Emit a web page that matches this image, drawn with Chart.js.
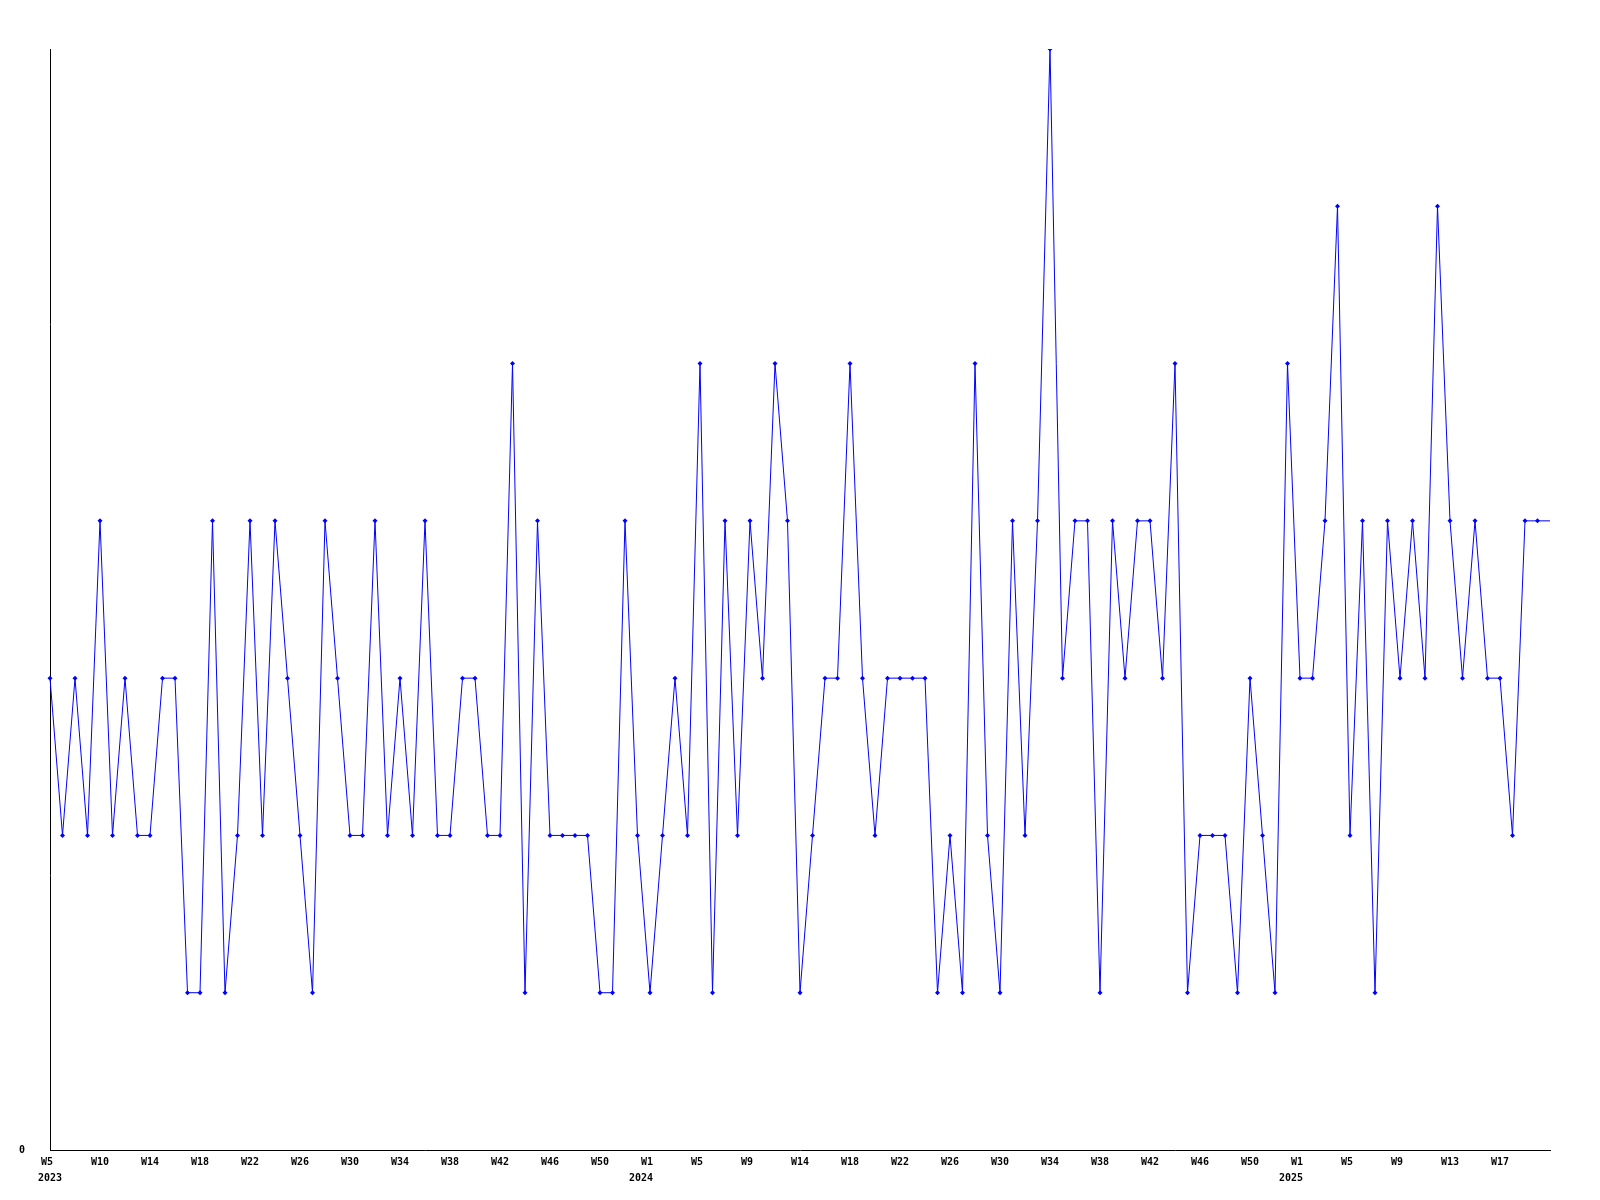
<!DOCTYPE html>
<html>
<head>
<meta charset="utf-8">
<title>Weekly count</title>
<script src="https://cdn.jsdelivr.net/npm/chart.js@4.4.1/dist/chart.umd.min.js"></script>
<style>
    html, body { margin: 0; padding: 0; background: #ffffff; }
    canvas { display: block; }
</style>
</head>
<body>
<canvas id="weekChart" width="1600" height="1200"></canvas>
<script>
// === DATA: one value per week, 2023 W5 .. 2025 ===
const weeklyValues = [
    3, 2, 3, 2, 4, 2, 3, 2, 2, 3, 3, 1, 1, 4, 1, 2, 4, 2, 4, 3,
    2, 1, 4, 3, 2, 2, 4, 2, 3, 2, 4, 2, 2, 3, 3, 2, 2, 5, 1, 4,
    2, 2, 2, 2, 1, 1, 4, 2, 1, 2, 3, 2, 5, 1, 4, 2, 4, 3, 5, 4,
    1, 2, 3, 3, 5, 3, 2, 3, 3, 3, 3, 1, 2, 1, 5, 2, 1, 4, 2, 4,
    7, 3, 4, 4, 1, 4, 3, 4, 4, 3, 5, 1, 2, 2, 2, 1, 3, 2, 1, 5,
    3, 3, 4, 6, 2, 4, 1, 4, 3, 4, 3, 6, 4, 3, 4, 3, 3, 2, 4, 4,
    4
];

// labels shown every 4th week
const weekTickLabels = [
    "W5", "W10", "W14", "W18", "W22", "W26", "W30", "W34", "W38", "W42",
    "W46", "W50", "W1", "W5", "W9", "W14", "W18", "W22", "W26", "W30",
    "W34", "W38", "W42", "W46", "W50", "W1", "W5", "W9", "W13", "W17"
];
const tickStep = 4;

// year under the first week of each year
const yearTickIndex = [0, 48, 100];
const yearTickText = ["2023", "2024", "2025"];

const yMin = 0;
const yMax = 7;

// === CHART ===
Chart.defaults.font.family = "'DejaVu Sans Mono', 'Liberation Mono', monospace";
Chart.defaults.font.size = 10;
Chart.defaults.font.weight = "bold";
Chart.defaults.color = "#000000";

const categories = weeklyValues.map((v, i) => i);
const lastIndex = weeklyValues.length - 1;

// labels sit in a 3-char box (week) / right-aligned under it (year)
function padWeek(txt) {
    return txt.length < 3 ? txt + " " : txt;
}
function padYear(txt, index) {
    return index === 0 ? txt : txt + "   ";
}

const ctx = document.getElementById("weekChart").getContext("2d");

new Chart(ctx, {
    type: "line",
    data: {
        labels: categories,
        datasets: [{
            data: weeklyValues,
            borderColor: "#0000ff",
            backgroundColor: "#0000ff",
            borderWidth: 1,
            tension: 0,
            fill: false,
            pointStyle: "rectRot",
            // last (current) week has no marker
            pointRadius: (c) => (c.dataIndex === lastIndex ? 0 : 2.5),
            pointBorderWidth: 0,
            pointBackgroundColor: "#0000ff",
        }],
    },
    options: {
        responsive: false,
        animation: false,
        events: [],
        layout: { padding: { top: 49, right: 50, left: 0, bottom: 0 } },
        plugins: {
            legend: { display: false },
            tooltip: { enabled: false },
        },
        scales: {
            x: {
                type: "category",
                offset: false,
                grid: { display: true, color: "rgba(0,0,0,0)", drawTicks: false },
                border: { display: true, color: "#000000", width: 1 },
                afterFit: (scale) => { scale.height = 50; },
                ticks: {
                    autoSkip: false,
                    maxRotation: 0,
                    minRotation: 0,
                    padding: 5,
                    font: { lineHeight: "15.5px" },
                    callback: function (value, index) {
                        if (index % tickStep !== 0) return "";
                        const label = weekTickLabels[index / tickStep];
                        if (!label) return "";
                        const week = padWeek(label);
                        const y = yearTickIndex.indexOf(index);
                        return y >= 0 ? [week, padYear(yearTickText[y], index)] : week;
                    },
                },
            },
            y: {
                min: yMin,
                max: yMax,
                grid: { display: true, color: "rgba(0,0,0,0)", drawTicks: false },
                border: { display: true, color: "#000000", width: 1 },
                afterFit: (scale) => { scale.width = 50; },
                // only the zero label is shown
                afterBuildTicks: (scale) => { scale.ticks = [{ value: yMin }]; },
                ticks: { padding: 25 },
            },
        },
    },
});
</script>
</body>
</html>
